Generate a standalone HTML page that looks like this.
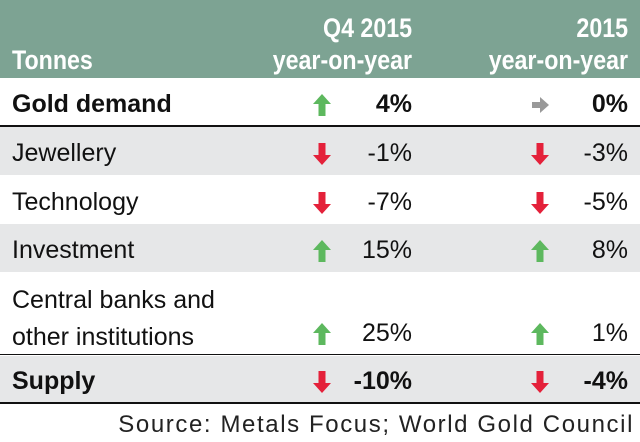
<!DOCTYPE html>
<html><head><meta charset="utf-8"><style>
body{margin:0;width:640px;height:442px;background:#fff;font-family:"Liberation Sans",sans-serif;overflow:hidden;position:relative}
.abs{position:absolute}
.hdr{left:0;top:0;width:640px;height:78px;background:#7da393}
.ht{color:#fff;font-weight:bold;font-size:27px;line-height:32px;text-align:right;transform:scaleX(0.86);transform-origin:right;white-space:nowrap}
.row{left:0;width:640px}
.lbl{left:12px;font-size:25px;color:#111}
.val{font-size:25px;color:#111;text-align:right;width:100px}
.b{font-weight:bold}
.line{left:0;width:640px;background:#111}
svg.arr{position:absolute;width:20px;height:24px}
</style></head><body>
<div class="abs hdr"></div>
<div class="abs ht" style="left:12px;top:44px;transform-origin:left">Tonnes</div>
<div class="abs ht" style="right:228px;top:12px">Q4 2015<br>year-on-year</div>
<div class="abs ht" style="right:12px;top:12px">2015<br>year-on-year</div>
<div id="rows"></div>
<div class="abs" style="right:6px;top:411px;font-size:24px;letter-spacing:1.6px;color:#222;white-space:nowrap">Source: Metals Focus; World Gold Council</div>
<script>
const labels=["Gold demand","Jewellery","Technology","Investment","Central banks and<br>other institutions","Supply"];
const q4=[4,-1,-7,15,25,-10];
const yr=[0,-3,-5,8,1,-4];
const tops=[78,127,175,224,272,356];
const hts=[48,48,49,48,83,47];
const bgs=["#fff","#e6e7e8","#fff","#e6e7e8","#fff","#e6e7e8"];
const bold=[true,false,false,false,false,true];
const root=document.getElementById('rows');
function arrow(v,x,y){
  const s=document.createElementNS('http://www.w3.org/2000/svg','svg');
  s.setAttribute('class','arr');s.setAttribute('viewBox','0 0 20 24');
  s.style.left=x+'px';s.style.top=y+'px';
  let p,c;
  if(v>0){p='M10 1 L19 11 L13.5 11 L13.5 23 L6.5 23 L6.5 11 L1 11 Z';c='#5db85e';}
  else if(v<0){p='M10 23 L19 13 L13.5 13 L13.5 1 L6.5 1 L6.5 13 L1 13 Z';c='#e4213a';}
  else{p='M19 12 L10 4 L10 9 L2 9 L2 15 L10 15 L10 20 Z';c='#999';}
  s.innerHTML='<path d="'+p+'" fill="'+c+'"/>';
  
  
  root.appendChild(s);
}
labels.forEach((l,i)=>{
  const r=document.createElement('div');r.className='abs row';
  r.style.top=tops[i]+'px';r.style.height=hts[i]+'px';r.style.background=bgs[i];
  
  
  root.appendChild(r);
  const ty=tops[i]+hts[i]-37;
  const t=document.createElement('div');t.className='abs lbl'+(bold[i]?' b':'');
  t.style.top=(i==4?tops[i+0]+10:ty)+'px';t.style.lineHeight=(i==4?'37px':'30px');t.innerHTML=l;
  
  
  root.appendChild(t);
  [[q4[i],412,312],[yr[i],628,530]].forEach(([v,rx,ax])=>{
    const d=document.createElement('div');d.className='abs val'+(bold[i]?' b':'');
    d.style.left=(rx-100)+'px';d.style.top=ty+'px';d.style.lineHeight='30px';
    d.textContent=v+'%';
    
    
    root.appendChild(d);
    arrow(v,ax,ty+4);
  });
});
[[125,2],[354,1],[402,2]].forEach(([y,h])=>{
  const d=document.createElement('div');d.className='abs line';d.style.top=y+'px';d.style.height=h+'px';
  
  
  root.appendChild(d);
});
</script>
</body></html>
